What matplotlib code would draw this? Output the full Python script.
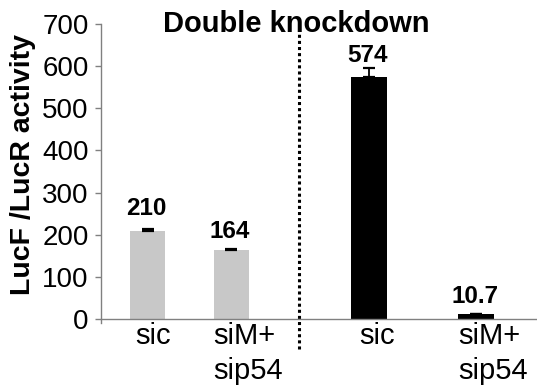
import matplotlib.pyplot as plt

plt.rcParams['font.family'] = ['Liberation Sans', 'DejaVu Sans']

# data
groups = ["sic", "siM+\nsip54", "sic", "siM+\nsip54"]
values = [210, 164, 574, 10.7]
errors = [4, 2, 22, 1.5]
value_labels = ["210", "164", "574", "10.7"]
bar_colors = ["#c8c8c8", "#c8c8c8", "#000000", "#000000"]

# layout
positions = [1.0, 2.0, 3.65, 4.93]
divider_x = 2.81
label_pad = [10, 8, 4, 8]          # points above the error bar
label_shift = [4, 12, 6, 12]       # points to the right for group labels

fig = plt.figure(figsize=(5.37, 3.89), dpi=100)
ax = fig.add_axes([101 / 537, 1 - 319 / 389, 436 / 537, 295 / 389])

ax.bar(positions, values, width=0.42, color=bar_colors, zorder=2)
ax.errorbar(positions, values, yerr=[[0] * len(errors), errors], fmt="none",
            ecolor="black", elinewidth=1.3, capsize=4.5, capthick=1.6, zorder=3)

for x, v, e, t, p in zip(positions, values, errors, value_labels, label_pad):
    ax.annotate(t, (x, v + e), xytext=(-1, p), textcoords="offset points",
                ha="center", va="baseline", fontsize=17.5, fontweight="bold")

# group names under the bars
for x, g, s in zip(positions, groups, label_shift):
    ax.annotate(g, (x, 0), xycoords=("data", "axes fraction"), xytext=(s, -2),
                textcoords="offset points", ha="center", va="top",
                fontsize=21, linespacing=1.33, multialignment="left")

ax.axvline(divider_x, ymin=-0.10, ymax=0.98, color="black", lw=2.2,
           ls=(0, (1, 1)), dash_capstyle="butt", clip_on=False)

ax.set_xlim(0.443, 5.66)
ax.set_ylim(0, 700)
ax.set_yticks(range(0, 701, 100))
ax.set_xticks([])

ax.tick_params(axis="y", labelsize=20, length=4, width=1, color="#808080",
               direction="out", pad=5)

for side in ["top", "right"]:
    ax.spines[side].set_visible(False)
for side in ["left", "bottom"]:
    ax.spines[side].set_color("#808080")
    ax.spines[side].set_linewidth(1)
ax.spines["left"].set_bounds(-10, 700)

ax.set_ylabel("LucF /LucR activity", fontsize=20.5, fontweight="bold", va="center")
ax.yaxis.set_label_coords(-0.179, 0.524)

fig.text(296.5 / 537, 1 - 32 / 389, "Double knockdown", ha="center",
         va="baseline", fontsize=21, fontweight="bold")

fig.savefig("out.png", dpi=100)
